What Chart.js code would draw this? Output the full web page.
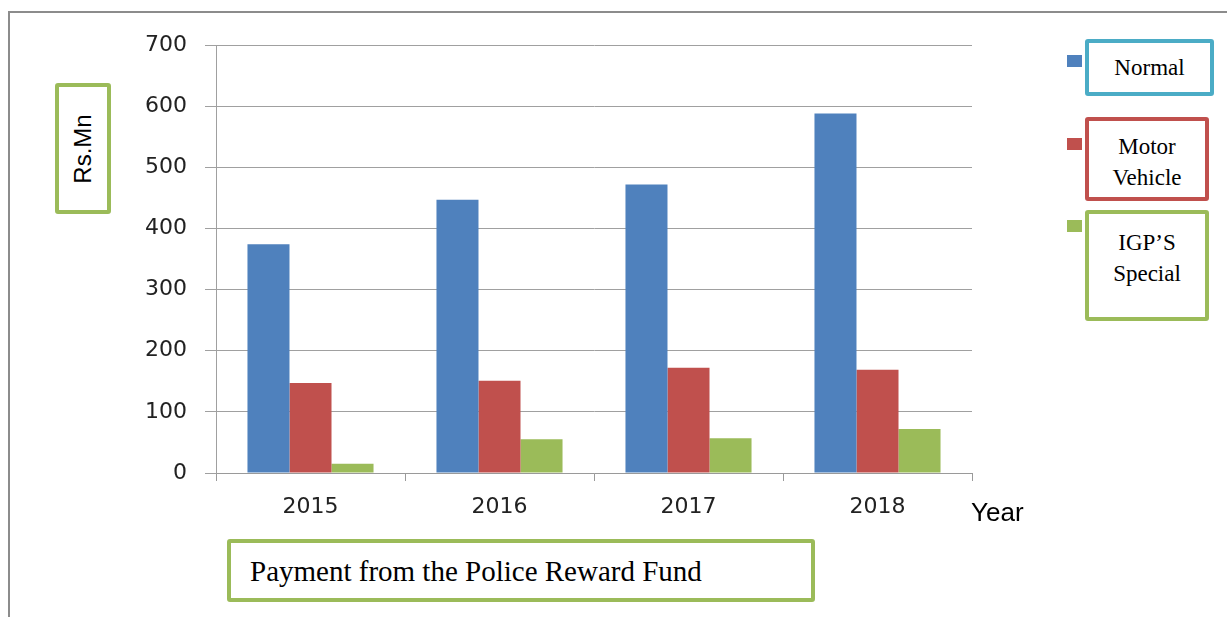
<!DOCTYPE html>
<html>
<head>
<meta charset="utf-8">
<script src="https://cdn.jsdelivr.net/npm/chart.js@4/dist/chart.umd.min.js"></script>
<style>
    html, body { margin: 0; padding: 0; background: #fff; }
    #wrap { position: relative; width: 1227px; height: 617px; overflow: hidden; }
    #frame { position: absolute; left: 8px; top: 11px; width: 1300px; height: 700px; border: 2px solid #8c8c8c; box-sizing: border-box; }
    canvas { position: absolute; left: 0; top: 0; }
    .box { position: absolute; box-sizing: border-box; border: 4px solid #9BBB59; border-radius: 3px; background: #fff; }
    .serif { font-family: "Liberation Serif", "Times New Roman", serif; color: #000; }
    #yTitle { left: 55px; top: 83px; width: 56px; height: 131px; }
    #yTitle span { position: absolute; left: 50%; top: 50%; transform: translate(-50%, -50%) rotate(-90deg); font: 24px "Liberation Sans", Arial, sans-serif; white-space: nowrap; }
    #title { left: 227px; top: 539px; width: 588px; height: 63px; }
    #title span { position: absolute; left: 19px; top: 12px; font-size: 29px; white-space: nowrap; }
    #xTitle { position: absolute; left: 971px; top: 497px; font: 26px "Liberation Sans", Arial, sans-serif; }
    .swatch { position: absolute; width: 15px; height: 12px; }
    .legText { text-align: center; font-size: 23px; line-height: 31px; }
</style>
</head>
<body>
<div id="wrap">
    <div id="frame"></div>
    <canvas id="chart" width="1227" height="617"></canvas>
    <div class="box" id="yTitle"><span>Rs.Mn</span></div>
    <div class="box serif" id="title"><span>Payment from the Police Reward Fund</span></div>
    <div id="xTitle">Year</div>
    <div id="legend"></div>
</div>
<script>
const years = ['2015', '2016', '2017', '2018'];
const normal = [374, 447, 472, 588];
const motorVehicle = [147, 151, 172, 169];
const igpSpecial = [15, 55, 57, 72];
const seriesNames = ['Normal', 'Motor Vehicle', "IGP’S Special"];
const seriesColors = ['#4F81BD', '#C0504D', '#9BBB59'];
const legendBorders = ['#4BACC6', '#C0504D', '#9BBB59'];
const yTicks = [0, 100, 200, 300, 400, 500, 600, 700];

// legend boxes on the right
const legendPos = [
    { top: 39, height: 57, width: 129, sw: 55, lines: ['Normal'], pad: 9 },
    { top: 117, height: 84, width: 124, sw: 138, lines: ['Motor', 'Vehicle'], pad: 10 },
    { top: 210, height: 111, width: 124, sw: 220, lines: ['IGP’S', 'Special'], pad: 13 }
];
const legend = document.getElementById('legend');
seriesNames.forEach((name, i) => {
    const p = legendPos[i];
    const sw = document.createElement('div');
    sw.className = 'swatch';
    sw.style.left = '1067px';
    sw.style.top = p.sw + 'px';
    sw.style.background = seriesColors[i];
    legend.appendChild(sw);
    const box = document.createElement('div');
    box.className = 'box serif legText';
    box.style.left = '1085px';
    box.style.top = p.top + 'px';
    box.style.width = p.width + 'px';
    box.style.height = p.height + 'px';
    box.style.borderColor = legendBorders[i];
    box.style.paddingTop = p.pad + 'px';
    box.innerHTML = p.lines.join('<br>');
    legend.appendChild(box);
});

const seriesData = [normal, motorVehicle, igpSpecial];
const ctx = document.getElementById('chart').getContext('2d');
new Chart(ctx, {
    type: 'bar',
    data: {
        labels: years,
        datasets: seriesNames.map((name, i) => ({
            label: name,
            data: seriesData[i],
            backgroundColor: seriesColors[i],
            borderWidth: 0,
            barPercentage: 1.0,
            categoryPercentage: 0.667
        }))
    },
    options: {
        responsive: false,
        animation: false,
        layout: { padding: { left: 0, top: 45, right: 255, bottom: 84 } },
        plugins: { legend: { display: false }, tooltip: { enabled: false } },
        scales: {
            x: {
                afterFit: (scale) => { scale.height = 60; },
                grid: { offset: true, drawOnChartArea: false, drawTicks: true, tickLength: 8, color: '#9a9a9a' },
                border: { display: true, color: '#9a9a9a', width: 1 },
                ticks: { color: '#222', padding: 13, font: { family: 'DejaVu Sans, Verdana, sans-serif', size: 22 } }
            },
            y: {
                min: 0,
                max: 700,
                afterFit: (scale) => { scale.width = 216; },
                afterBuildTicks: (scale) => { scale.ticks = yTicks.map(v => ({ value: v })); },
                grid: { color: '#a0a0a0', lineWidth: 1, tickLength: 11 },
                border: { display: true, color: '#a0a0a0', width: 1 },
                ticks: { color: '#222', padding: 18, font: { family: 'DejaVu Sans, Verdana, sans-serif', size: 22 } }
            }
        }
    }
});
</script>
</body>
</html>
